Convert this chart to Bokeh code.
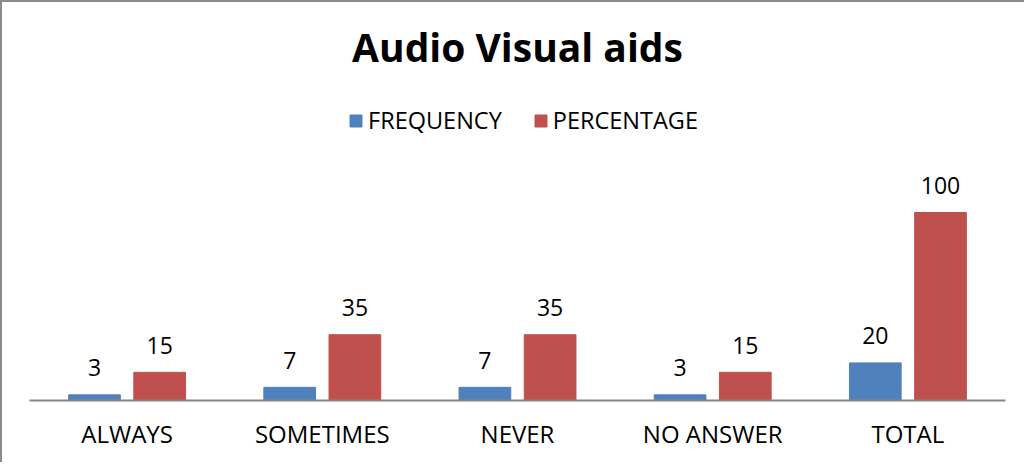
from bokeh.plotting import figure
from bokeh.models import ColumnDataSource, Range1d, Legend, LegendItem, Label
from bokeh.transform import dodge
from bokeh.core.properties import value
from bokeh.embed import file_html
from bokeh.resources import INLINE

# ---- data ----
categories = ["ALWAYS", "SOMETIMES", "NEVER", "NO ANSWER", "TOTAL"]
frequency = [3, 7, 7, 3, 20]
percentage = [15, 35, 35, 15, 100]
series_names = ["FREQUENCY", "PERCENTAGE"]
title_text = "Audio Visual aids"

BLUE = "#4F81BD"
RED = "#C0504D"
FONT = "Open Sans"

source = ColumnDataSource(dict(
    cat=categories,
    freq=frequency,
    pct=percentage,
    freq_lbl=[str(v) for v in frequency],
    pct_lbl=[str(v) for v in percentage],
))

p = figure(
    x_range=categories,
    y_range=Range1d(0, 211.7),
    width=1024, height=462,
    output_backend="svg", toolbar_location=None,
    min_border_left=27, min_border_right=21, min_border_top=0, min_border_bottom=64,
)
p.styles = {"border-left": "2px solid #8c8c8c", "border-top": "2px solid #8c8c8c"}
p.x_range.range_padding = 0
p.outline_line_color = None
p.xgrid.grid_line_color = None
p.ygrid.grid_line_color = None
p.yaxis.visible = False

bw = 0.265
off = 0.167
r1 = p.vbar(x=dodge("cat", -off, range=p.x_range), top="freq", width=bw, source=source,
            fill_color=BLUE, line_color=BLUE)
r2 = p.vbar(x=dodge("cat", off, range=p.x_range), top="pct", width=bw, source=source,
            fill_color=RED, line_color=RED)

p.text(x=dodge("cat", -off, range=p.x_range), y="freq", text="freq_lbl", source=source,
       text_align="center", text_baseline="alphabetic", y_offset=-27,
       text_font=value(FONT), text_font_size="23px", text_color="#000000")
p.text(x=dodge("cat", off, range=p.x_range), y="pct", text="pct_lbl", source=source,
       text_align="center", text_baseline="alphabetic", y_offset=-27,
       text_font=value(FONT), text_font_size="23px", text_color="#000000")

ax = p.xaxis[0]
ax.axis_line_color = "#868686"
ax.axis_line_width = 2
ax.major_tick_line_color = None
ax.minor_tick_line_color = None
ax.major_tick_out = 0
ax.major_tick_in = 0
ax.major_label_standoff = 16
ax.major_label_text_font = FONT
ax.major_label_text_font_size = "24px"
ax.major_label_text_color = "#000000"

title = Label(x=2.5, y=354, y_units="screen", text=title_text,
              text_align="center", text_baseline="middle",
              text_font=FONT, text_font_size="39px", text_font_style="bold",
              text_color="#000000")
p.add_layout(title)

legend = Legend(items=[LegendItem(label=series_names[0], renderers=[r1]),
                       LegendItem(label=series_names[1], renderers=[r2])],
                orientation="horizontal", location=(319, 264),
                glyph_width=15, glyph_height=15, label_standoff=5, spacing=31,
                padding=0, margin=0, border_line_color=None, background_fill_alpha=0,
                label_text_font=FONT, label_text_font_size="23.5px", label_text_color="#000000")
p.add_layout(legend)

open("out.html", "w").write(file_html(p, INLINE))
